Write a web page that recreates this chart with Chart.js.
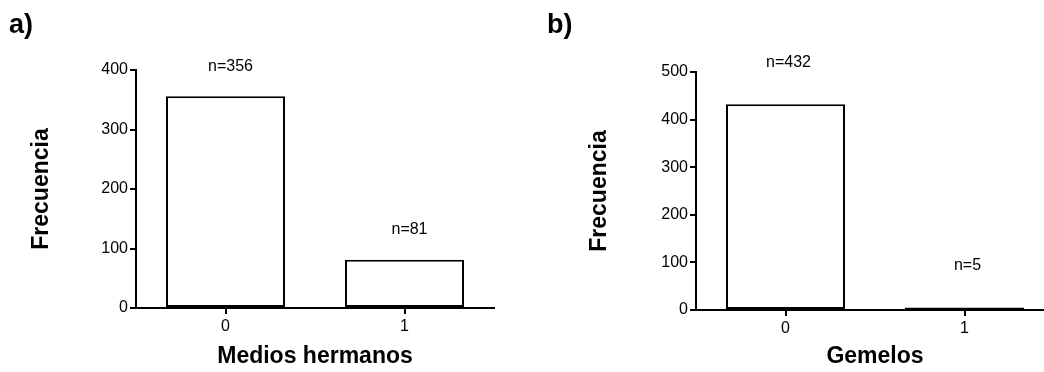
<!DOCTYPE html>
<html>
<head>
<meta charset="utf-8">
<script src="https://cdn.jsdelivr.net/npm/chart.js@4"></script>
<style>
  html, body { margin: 0; padding: 0; background: #fff; overflow: hidden; }
  #wrap { position: relative; width: 1044px; height: 372px; overflow: hidden; }
  .panel { position: absolute; top: 0; }
  .tag { position: absolute; font: bold 27px "Liberation Sans", Arial, sans-serif; color: #000; line-height: 1; }
</style>
</head>
<body>
<div id="wrap">
  <div class="panel" style="left:0;width:522px;height:372px"><canvas id="ca" width="522" height="372"></canvas></div>
  <div class="panel" style="left:522px;width:560px;height:372px"><canvas id="cb" width="560" height="372"></canvas></div>
  <div class="tag" style="left:9px;top:11px">a)</div>
  <div class="tag" style="left:547px;top:11px">b)</div>
</div>
<script>
// Categories and counts for each panel
const categories = ['0', '1'];
const mediosHermanos = [356, 81];
const gemelos = [432, 5];
const yMaxA = 400;
const yMaxB = 500;
const yStep = 100;

Chart.defaults.font.family = '"Liberation Sans", Arial, Helvetica, sans-serif';
Chart.defaults.color = '#000';

// Writes "n=<count>" above each bar
const countLabels = {
  id: 'countLabels',
  afterDatasetsDraw(chart, args, opts) {
    const ctx = chart.ctx;
    const meta = chart.getDatasetMeta(0);
    const values = chart.data.datasets[0].data;
    ctx.save();
    ctx.font = '16px "Liberation Sans", Arial, sans-serif';
    ctx.fillStyle = '#000';
    ctx.textAlign = 'center';
    ctx.textBaseline = 'middle';
    meta.data.forEach((bar, i) => {
      ctx.fillText('n=' + values[i], bar.x + opts.dx, bar.y - opts.gap);
    });
    ctx.restore();
  }
};

function makeChart(id, values, xTitle, cfg) {
  return new Chart(document.getElementById(id), {
    type: 'bar',
    data: {
      labels: categories,
      datasets: [{
        data: values,
        backgroundColor: '#fff',
        borderColor: '#000',
        borderWidth: 2,
        borderSkipped: false,
        barPercentage: 0.665,
        categoryPercentage: 1.0
      }]
    },
    plugins: [countLabels],
    options: {
      responsive: false,
      animation: false,
      layout: { padding: { left: 0, right: cfg.padRight, top: cfg.top, bottom: 0 } },
      plugins: {
        legend: { display: false },
        tooltip: { enabled: false },
        countLabels: { gap: cfg.gap, dx: cfg.dx }
      },
      scales: {
        x: {
          grid: { offset: false, drawOnChartArea: false, drawTicks: true, tickLength: 6, color: '#000', lineWidth: 2 },
          border: { color: '#000', width: 2 },
          ticks: { color: '#000', font: { size: 16 }, padding: 3 },
          title: { display: true, text: xTitle, color: '#000', font: { size: 23, weight: 'bold' }, padding: { top: 0, bottom: 2 } },
          afterFit(s) { s.height = cfg.xHeight; }
        },
        y: {
          min: 0,
          max: cfg.max,
          ticks: { stepSize: yStep, color: '#000', font: { size: 16 }, padding: 2 },
          grid: { drawOnChartArea: false, drawTicks: true, tickLength: 6, color: '#000', lineWidth: 2 },
          border: { color: '#000', width: 2 },
          title: { display: true, text: 'Frecuencia', color: '#000', font: { size: 23, weight: 'bold' }, padding: { top: cfg.yTitlePad, bottom: 0 } },
          afterFit(s) { s.width = cfg.yWidth; }
        }
      }
    }
  });
}

makeChart('ca', mediosHermanos, 'Medios hermanos', {
  max: yMaxA, top: 70, padRight: 28, xHeight: 64, yWidth: 136, yTitlePad: 28, gap: 30, dx: 5
});
makeChart('cb', gemelos, 'Gemelos', {
  max: yMaxB, top: 72, padRight: 28, xHeight: 62, yWidth: 174, yTitlePad: 64, gap: 42, dx: 3
});
</script>
</body>
</html>
